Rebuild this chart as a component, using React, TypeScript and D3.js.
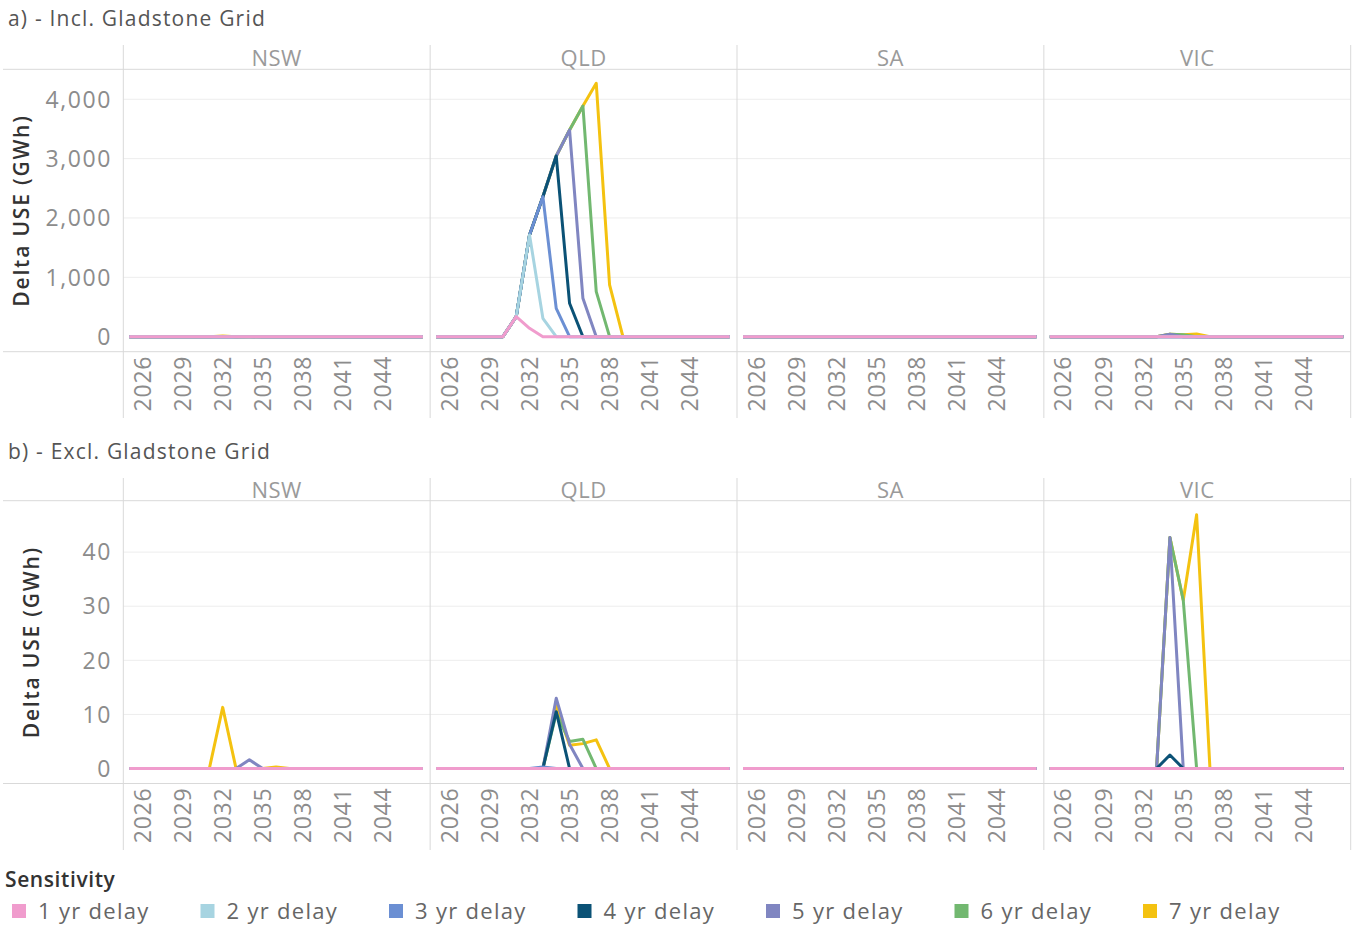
import * as d3 from 'd3';

const years = [
  2025, 2026, 2027, 2028, 2029, 2030, 2031, 2032, 2033, 2034, 2035, 2036,
  2037, 2038, 2039, 2040, 2041, 2042, 2043, 2044, 2045, 2046, 2047,
];
const tickYears = [2026, 2029, 2032, 2035, 2038, 2041, 2044];
const regions = ['NSW', 'QLD', 'SA', 'VIC'];
const sensitivities = [
  '1 yr delay', '2 yr delay', '3 yr delay', '4 yr delay',
  '5 yr delay', '6 yr delay', '7 yr delay',
];
const colors = ['#f09ccd', '#a7d4e1', '#6b8fd3', '#0b5276', '#8086c1', '#72b870', '#f4c210'];

const flat = [0, 0, 0, 0, 0, 0, 0, 0, 0, 0, 0, 0, 0, 0, 0, 0, 0, 0, 0, 0, 0, 0, 0];

// a) incl. Gladstone grid, QLD
const qldIncl1 = [0, 0, 0, 0, 0, 0, 337, 141, 0, 0, 0, 0, 0, 0, 0, 0, 0, 0, 0, 0, 0, 0, 0];
const qldIncl2 = [0, 0, 0, 0, 0, 0, 337, 1714, 310, 0, 0, 0, 0, 0, 0, 0, 0, 0, 0, 0, 0, 0, 0];
const qldIncl3 = [0, 0, 0, 0, 0, 0, 337, 1714, 2359, 478, 0, 0, 0, 0, 0, 0, 0, 0, 0, 0, 0, 0, 0];
const qldIncl4 = [0, 0, 0, 0, 0, 0, 337, 1714, 2359, 3045, 563, 0, 0, 0, 0, 0, 0, 0, 0, 0, 0, 0, 0];
const qldIncl5 = [0, 0, 0, 0, 0, 0, 337, 1714, 2359, 3045, 3483, 647, 0, 0, 0, 0, 0, 0, 0, 0, 0, 0, 0];
const qldIncl6 = [0, 0, 0, 0, 0, 0, 337, 1714, 2359, 3045, 3483, 3887, 758, 0, 0, 0, 0, 0, 0, 0, 0, 0, 0];
const qldIncl7 = [0, 0, 0, 0, 0, 0, 337, 1714, 2359, 3045, 3483, 3887, 4270, 871, 0, 0, 0, 0, 0, 0, 0, 0, 0];

// b) excl. Gladstone grid
const nsw5 = [0, 0, 0, 0, 0, 0, 0, 0, 0, 1.6, 0, 0, 0, 0, 0, 0, 0, 0, 0, 0, 0, 0, 0];
const nsw7 = [0, 0, 0, 0, 0, 0, 0, 11.3, 0, 0, 0, 0.3, 0, 0, 0, 0, 0, 0, 0, 0, 0, 0, 0];
const qldExcl3 = [0, 0, 0, 0, 0, 0, 0, 0, 0.3, 0, 0, 0, 0, 0, 0, 0, 0, 0, 0, 0, 0, 0, 0];
const qldExcl4 = [0, 0, 0, 0, 0, 0, 0, 0, 0, 10.5, 0, 0, 0, 0, 0, 0, 0, 0, 0, 0, 0, 0, 0];
const qldExcl5 = [0, 0, 0, 0, 0, 0, 0, 0, 0, 13.0, 4.5, 0, 0, 0, 0, 0, 0, 0, 0, 0, 0, 0, 0];
const qldExcl6 = [0, 0, 0, 0, 0, 0, 0, 0, 0, 10.2, 5.0, 5.4, 0, 0, 0, 0, 0, 0, 0, 0, 0, 0, 0];
const qldExcl7 = [0, 0, 0, 0, 0, 0, 0, 0, 0, 11.5, 4.3, 4.6, 5.3, 0, 0, 0, 0, 0, 0, 0, 0, 0, 0];
const vic4 = [0, 0, 0, 0, 0, 0, 0, 0, 0, 2.5, 0, 0, 0, 0, 0, 0, 0, 0, 0, 0, 0, 0, 0];
const vic5 = [0, 0, 0, 0, 0, 0, 0, 0, 0, 42.7, 0, 0, 0, 0, 0, 0, 0, 0, 0, 0, 0, 0, 0];
const vic6 = [0, 0, 0, 0, 0, 0, 0, 0, 0, 42.7, 31.1, 0, 0, 0, 0, 0, 0, 0, 0, 0, 0, 0, 0];
const vic7 = [0, 0, 0, 0, 0, 0, 0, 0, 0, 42.7, 31.1, 46.9, 0, 0, 0, 0, 0, 0, 0, 0, 0, 0, 0];

const nswSeries = [flat, flat, flat, flat, nsw5, flat, nsw7];
const saSeries = [flat, flat, flat, flat, flat, flat, flat];
const vicSeries = [flat, flat, flat, vic4, vic5, vic6, vic7];

const inclData: Record<string, number[][]> = {
  NSW: nswSeries,
  QLD: [qldIncl1, qldIncl2, qldIncl3, qldIncl4, qldIncl5, qldIncl6, qldIncl7],
  SA: saSeries,
  VIC: vicSeries,
};
const exclData: Record<string, number[][]> = {
  NSW: nswSeries,
  QLD: [flat, flat, qldExcl3, qldExcl4, qldExcl5, qldExcl6, qldExcl7],
  SA: saSeries,
  VIC: vicSeries,
};

const FONT = '"Open Sans", "Noto Sans", sans-serif';

interface SectionProps {
  title: string;
  titleY: number;
  headerTop: number;
  headerLine: number;
  axisLine: number;
  dividerBottom: number;
  domain: [number, number];
  ticks: number[];
  yTitleX: number;
  data: Record<string, number[][]>;
}

const panelX = d3.scaleBand<string>().domain(regions).range([123.3, 1350.7]);

const Section = ({
  title, titleY, headerTop, headerLine, axisLine, dividerBottom, domain, ticks, yTitleX, data,
}: SectionProps) => {
  const bw = panelX.bandwidth();
  const x = d3.scaleLinear().domain([2024.55, 2047.55]).range([0, bw]);
  const y = d3.scaleLinear().domain(domain).range([axisLine, headerLine]);
  const fmt = d3.format(',');
  const line = d3
    .line<number>()
    .x((_, i) => x(years[i]))
    .y((d) => y(d));
  const order = d3.range(sensitivities.length).reverse();

  return (
    <g>
      <text x={8} y={titleY} fontSize={21} fill="#555" letterSpacing={1.2}>
        {title}
      </text>

      {/* gridlines */}
      {regions.map((r) =>
        ticks
          .filter((t) => t !== 0)
          .map((t) => (
            <line
              key={r + t}
              x1={panelX(r)}
              x2={(panelX(r) ?? 0) + bw}
              y1={y(t)}
              y2={y(t)}
              stroke="#ededed"
              strokeWidth={1}
            />
          )),
      )}

      {/* frame lines */}
      <line x1={3} x2={1350.7} y1={headerLine} y2={headerLine} stroke="#d9d9d9" />
      <line x1={3} x2={1350.7} y1={axisLine} y2={axisLine} stroke="#d9d9d9" />
      {[...regions.map((r) => panelX(r) ?? 0), 1350.7].map((px) => (
        <line key={px} x1={px} x2={px} y1={headerTop} y2={dividerBottom} stroke="#d9d9d9" />
      ))}

      {/* region headers */}
      {regions.map((r) => (
        <text
          key={r}
          x={(panelX(r) ?? 0) + bw / 2}
          y={headerLine - 3}
          textAnchor="middle"
          fontSize={22}
          fill="#9a9a9a"
          letterSpacing={0.5}
        >
          {r}
        </text>
      ))}

      {/* y axis */}
      {ticks.map((t) => (
        <text
          key={t}
          x={112}
          y={y(t)}
          dy="0.36em"
          textAnchor="end"
          fontSize={23}
          fill="#8c8c8c"
          letterSpacing={1.6}
        >
          {fmt(t)}
        </text>
      ))}
      <text
        transform={`translate(${yTitleX},${(headerLine + axisLine) / 2}) rotate(-90)`}
        textAnchor="middle"
        dy="0.36em"
        fontSize={21}
        fontWeight={600}
        fill="#333"
        letterSpacing={1.8}
      >
        Delta USE (GWh)
      </text>

      {/* panels */}
      {regions.map((r) => (
        <g key={r} transform={`translate(${panelX(r)},0)`}>
          {tickYears.map((yr) => (
            <text
              key={yr}
              transform={`translate(${x(yr)},${axisLine + 4}) rotate(-90)`}
              textAnchor="end"
              dy="0.36em"
              fontSize={23}
              fill="#8c8c8c"
              letterSpacing={0.8}
            >
              {yr}
            </text>
          ))}
          {order.map((si) => (
            <path
              key={si}
              d={line(data[r][si]) ?? ''}
              fill="none"
              stroke={colors[si]}
              strokeWidth={3}
              strokeLinejoin="round"
            />
          ))}
        </g>
      ))}
    </g>
  );
};

const legendX = d3.scalePoint<string>().domain(sensitivities).range([12, 1143]);

export default function App() {
  return (
    <svg
      width={1360}
      height={929}
      style={{ position: 'absolute', left: 0, top: 0, background: '#fff', fontFamily: FONT }}
    >
      <Section
        title="a) - Incl. Gladstone Grid"
        titleY={26}
        headerTop={45}
        headerLine={69.3}
        axisLine={351.7}
        dividerBottom={418}
        domain={[-253, 4505]}
        ticks={[0, 1000, 2000, 3000, 4000]}
        yTitleX={21}
        data={inclData}
      />
      <Section
        title="b) - Excl. Gladstone Grid"
        titleY={459}
        headerTop={478}
        headerLine={500.7}
        axisLine={783.5}
        dividerBottom={850}
        domain={[-2.77, 49.5]}
        ticks={[0, 10, 20, 30, 40]}
        yTitleX={31}
        data={exclData}
      />

      <text x={5} y={887} fontSize={21} fontWeight={600} fill="#333" letterSpacing={0.6}>
        Sensitivity
      </text>
      {sensitivities.map((s, i) => (
        <g key={s} transform={`translate(${legendX(s)},0)`}>
          <rect x={0} y={904} width={14} height={14} fill={colors[i]} />
          <text x={26} y={919} fontSize={22} fill="#666" letterSpacing={1.3}>
            {s}
          </text>
        </g>
      ))}
    </svg>
  );
}
